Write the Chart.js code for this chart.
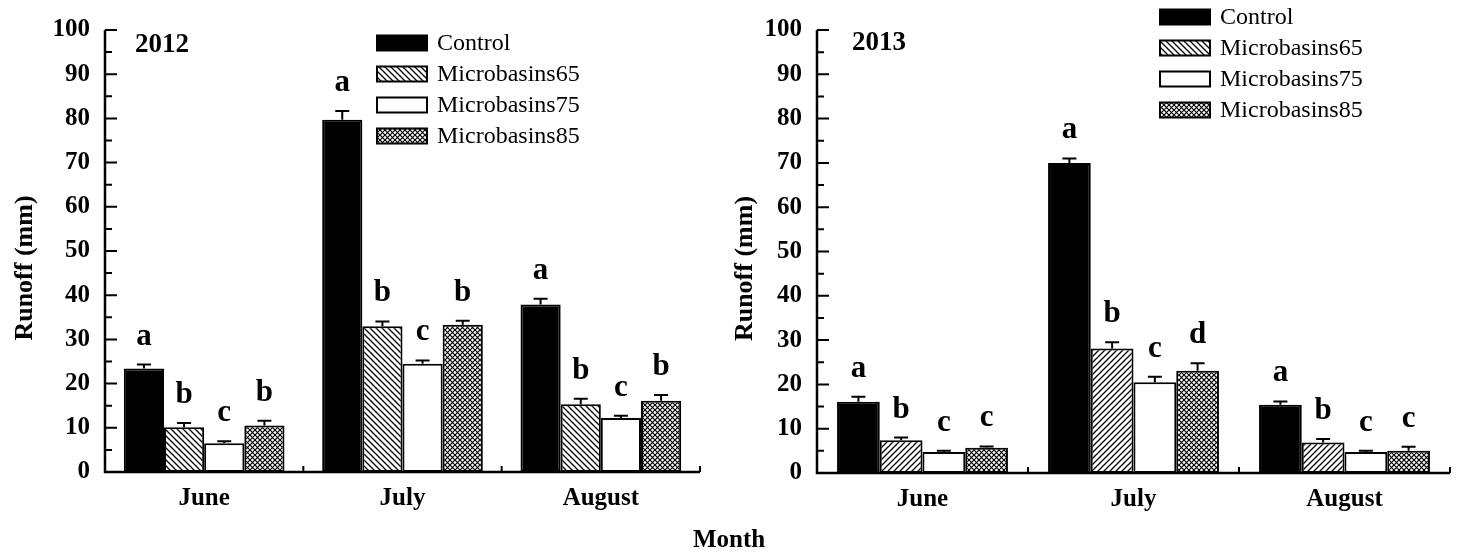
<!DOCTYPE html>
<html>
<head>
<meta charset="utf-8">
<script src="https://cdn.jsdelivr.net/npm/chart.js@4.4.1/dist/chart.umd.min.js"></script>
<style>
  html, body { margin: 0; padding: 0; background: #fff; }
  body { width: 1458px; height: 557px; position: relative; overflow: hidden; font-family: "Liberation Serif", "Times New Roman", serif; }
  .panel { position: absolute; top: 0; height: 557px; }
  #p2012 { left: 0; width: 712px; }
  #p2013 { left: 729px; width: 729px; }
  #month { position: absolute; left: 0; width: 1458px; top: 525px; text-align: center; font-weight: bold; font-size: 25px; color: #000; }
</style>
</head>
<body>
<div class="panel" id="p2012"><canvas id="chart2012"></canvas></div>
<div class="panel" id="p2013"><canvas id="chart2013"></canvas></div>
<div id="month">Month</div>
<script>
// categories and series
const months = ['June', 'July', 'August'];
const seriesNames = ['Control', 'Microbasins65', 'Microbasins75', 'Microbasins85'];
const yMin = 0, yMax = 100, yStep = 10;

// 2012 runoff (mm), error and significance letters
const control2012 = [23.4, 79.7, 37.9];
const mb65_2012 = [10.1, 33.0, 15.3];
const mb75_2012 = [6.5, 24.5, 12.2];
const mb85_2012 = [10.5, 33.3, 16.1];
const controlErr2012 = [0.9, 2.0, 1.3];
const mb65Err2012 = [1.0, 1.05, 1.25];
const mb75Err2012 = [0.45, 0.75, 0.5];
const mb85Err2012 = [1.1, 0.9, 1.3];
const controlSig2012 = ['a', 'a', 'a'];
const mb65Sig2012 = ['b', 'b', 'b'];
const mb75Sig2012 = ['c', 'c', 'c'];
const mb85Sig2012 = ['b', 'b', 'b'];

// 2013
const control2013 = [16.1, 70.0, 15.4];
const mb65_2013 = [7.4, 28.1, 6.9];
const mb75_2013 = [4.75, 20.5, 4.75];
const mb85_2013 = [5.7, 23.1, 5.0];
const controlErr2013 = [1.1, 1.0, 0.75];
const mb65Err2013 = [0.6, 1.4, 0.8];
const mb75Err2013 = [0.3, 1.2, 0.3];
const mb85Err2013 = [0.3, 1.65, 0.9];
const controlSig2013 = ['a', 'a', 'a'];
const mb65Sig2013 = ['b', 'b', 'b'];
const mb75Sig2013 = ['c', 'c', 'c'];
const mb85Sig2013 = ['c', 'd', 'c'];

// fill patterns
function hatch(dir) {
    const s = 6;
    const c = document.createElement('canvas');
    c.width = s; c.height = s;
    const g = c.getContext('2d');
    g.fillStyle = '#fff';
    g.fillRect(0, 0, s, s);
    g.strokeStyle = '#000';
    g.lineWidth = 1.3;
    g.beginPath();
    if (dir === 'back') {
        g.moveTo(-1, -1); g.lineTo(s + 1, s + 1);
        g.moveTo(-1, s - 1); g.lineTo(1, s + 1);
        g.moveTo(s - 1, -1); g.lineTo(s + 1, 1);
    } else {
        g.moveTo(-1, s + 1); g.lineTo(s + 1, -1);
        g.moveTo(-1, 1); g.lineTo(1, -1);
        g.moveTo(s - 1, s + 1); g.lineTo(s + 1, s - 1);
    }
    g.stroke();
    return g.createPattern(c, 'repeat');
}

function crossHatch() {
    const s = 5;
    const c = document.createElement('canvas');
    c.width = s; c.height = s;
    const g = c.getContext('2d');
    g.fillStyle = '#fff';
    g.fillRect(0, 0, s, s);
    g.strokeStyle = '#000';
    g.lineWidth = 1.2;
    g.beginPath();
    g.moveTo(-1, -1); g.lineTo(s + 1, s + 1);
    g.moveTo(-1, s + 1); g.lineTo(s + 1, -1);
    g.stroke();
    return g.createPattern(c, 'repeat');
}

const backPattern = hatch('back');
const fwdPattern = hatch('fwd');
const crossPattern = crossHatch();

// error bars, letters, axes, axis title, legend, panel year
const panelExtras = {
    id: 'panelExtras',
    afterDatasetsDraw(chart, args, opts) {
        const ctx = chart.ctx;
        const xs = chart.scales.x;
        const ys = chart.scales.y;
        const area = chart.chartArea;
        ctx.save();

        chart.data.datasets.forEach((ds, di) => {
            const meta = chart.getDatasetMeta(di);
            meta.data.forEach((bar, i) => {
                const base = ys.getPixelForValue(ds.data[i]);
                const top = ys.getPixelForValue(ds.data[i] + ds.errors[i]);
                ctx.strokeStyle = '#000';
                ctx.lineWidth = 2;
                ctx.beginPath();
                ctx.moveTo(bar.x, base);
                ctx.lineTo(bar.x, top);
                ctx.moveTo(bar.x - 7, top);
                ctx.lineTo(bar.x + 7, top);
                ctx.stroke();

                ctx.fillStyle = '#000';
                ctx.font = 'bold 31px "Liberation Serif"';
                ctx.textAlign = 'center';
                ctx.textBaseline = 'alphabetic';
                ctx.fillText(ds.letters[i], bar.x, top - 20);
            });
        });

        // axis lines
        ctx.strokeStyle = '#000';
        ctx.lineWidth = 2.5;
        ctx.beginPath();
        ctx.moveTo(area.left, area.top);
        ctx.lineTo(area.left, area.bottom);
        ctx.lineTo(area.right, area.bottom);
        ctx.stroke();

        // inward y ticks, major and minor
        ctx.lineWidth = 2;
        ctx.beginPath();
        for (let v = yMin; v <= yMax; v += yStep / 2) {
            const py = ys.getPixelForValue(v);
            const len = v % yStep === 0 ? 12 : 7;
            ctx.moveTo(area.left, py);
            ctx.lineTo(area.left + len, py);
        }
        // category boundary ticks
        for (let i = 0; i < months.length; i++) {
            const px = i < months.length - 1
                ? (xs.getPixelForTick(i) + xs.getPixelForTick(i + 1)) / 2
                : area.right;
            ctx.moveTo(px, area.bottom);
            ctx.lineTo(px, area.bottom - 6);
        }
        ctx.stroke();

        // y axis title
        ctx.save();
        ctx.translate(opts.titleX, (area.top + area.bottom) / 2 + 17);
        ctx.rotate(-Math.PI / 2);
        ctx.fillStyle = '#000';
        ctx.font = 'bold 26px "Liberation Serif"';
        ctx.textAlign = 'center';
        ctx.textBaseline = 'middle';
        ctx.fillText('Runoff (mm)', 0, 0);
        ctx.restore();

        // year label
        ctx.fillStyle = '#000';
        ctx.font = 'bold 27px "Liberation Serif"';
        ctx.textAlign = 'left';
        ctx.textBaseline = 'alphabetic';
        ctx.fillText(opts.year, area.left + opts.yearDx, area.top + opts.yearDy);

        // legend
        ctx.font = '24px "Liberation Serif"';
        ctx.textBaseline = 'middle';
        chart.data.datasets.forEach((ds, di) => {
            const cy = opts.legendY + di * 31;
            ctx.fillStyle = ds.legendFill || ds.backgroundColor;
            ctx.fillRect(opts.legendX, cy - 7.5, 50, 15);
            ctx.lineWidth = 2;
            ctx.strokeStyle = '#000';
            ctx.strokeRect(opts.legendX, cy - 7.5, 50, 15);
            ctx.fillStyle = '#000';
            ctx.fillText(ds.label, opts.legendX + 60, cy + 1);
        });

        ctx.restore();
    }
};

const tickFont = { family: '"Liberation Serif"', size: 25, weight: 'bold' };

function makeDatasets(values, errors, letters, m65Fill) {
    const fills = ['#000', m65Fill, '#fff', crossPattern];
    return seriesNames.map((name, k) => ({
        label: name,
        data: values[k],
        errors: errors[k],
        letters: letters[k],
        backgroundColor: fills[k],
        legendFill: k === 1 ? backPattern : fills[k],
        borderColor: '#000',
        borderWidth: 2,
        borderSkipped: false,
        categoryPercentage: 0.81,
        barPercentage: 1.0
    }));
}

function buildChart(canvasId, datasets, cfg) {
    return new Chart(document.getElementById(canvasId), {
        type: 'bar',
        data: { labels: months, datasets: datasets },
        plugins: [panelExtras],
        options: {
            responsive: true,
            maintainAspectRatio: false,
            animation: false,
            layout: { padding: { top: cfg.top, right: cfg.right, left: 0, bottom: 0 } },
            plugins: {
                legend: { display: false },
                tooltip: { enabled: false },
                panelExtras: cfg.extras
            },
            scales: {
                x: {
                    grid: { display: false, drawTicks: false },
                    border: { display: false },
                    ticks: { font: tickFont, color: '#000', padding: 12, maxRotation: 0 },
                    afterFit: s => { s.height = cfg.xHeight; }
                },
                y: {
                    min: yMin,
                    max: yMax,
                    grid: { display: false, drawTicks: false },
                    border: { display: false },
                    ticks: { stepSize: yStep, font: tickFont, color: '#000', padding: 15 },
                    afterFit: s => { s.width = cfg.yWidth; }
                }
            }
        }
    });
}

buildChart('chart2012',
    makeDatasets(
        [control2012, mb65_2012, mb75_2012, mb85_2012],
        [controlErr2012, mb65Err2012, mb75Err2012, mb85Err2012],
        [controlSig2012, mb65Sig2012, mb75Sig2012, mb85Sig2012],
        backPattern),
    { top: 24, right: 12, xHeight: 85, yWidth: 105,
      extras: { year: '2012', yearDx: 30, yearDy: 22, legendX: 377, legendY: 43, titleX: 25 } });

buildChart('chart2013',
    makeDatasets(
        [control2013, mb65_2013, mb75_2013, mb85_2013],
        [controlErr2013, mb65Err2013, mb75Err2013, mb85Err2013],
        [controlSig2013, mb65Sig2013, mb75Sig2013, mb85Sig2013],
        fwdPattern),
    { top: 25, right: 8, xHeight: 84, yWidth: 88,
      extras: { year: '2013', yearDx: 35, yearDy: 20, legendX: 431, legendY: 17, titleX: 16 } });
</script>
</body>
</html>
